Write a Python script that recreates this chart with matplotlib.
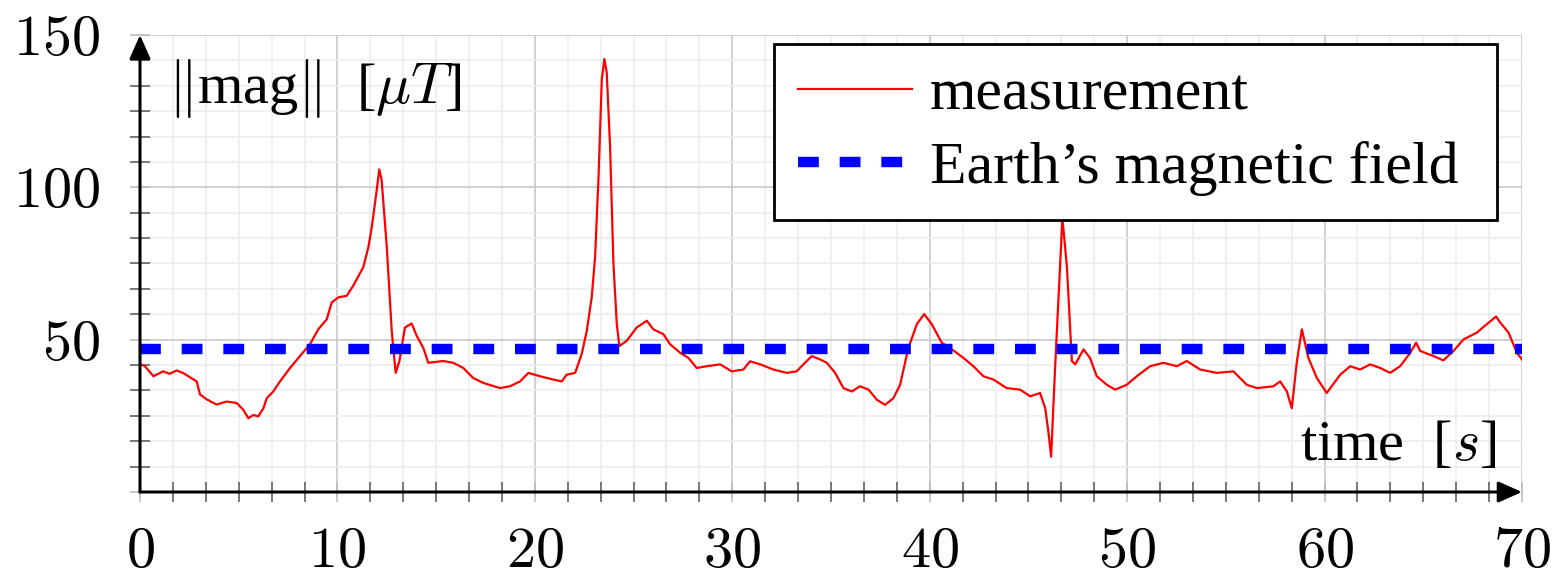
import numpy as np
import matplotlib
matplotlib.use("Agg")
import matplotlib.pyplot as plt
from matplotlib.ticker import MultipleLocator, AutoMinorLocator, FuncFormatter

plt.rcParams['font.family'] = ['Liberation Serif', 'DejaVu Serif']
plt.rcParams['mathtext.fontset'] = 'cm'

# magnetometer norm
time_s = [0.0, 0.25, 0.68, 1.17, 1.5, 1.86, 2.2, 2.87, 3.04, 3.38, 3.88, 4.39, 4.9,
          5.23, 5.49, 5.74, 5.99, 6.25, 6.42, 6.75, 7.09, 7.6, 8.1, 8.61, 9.03, 9.46,
          9.71, 10.05, 10.47, 10.8, 11.31, 11.57, 11.74, 11.99, 12.12, 12.24, 12.5,
          12.75, 12.95, 13.14, 13.42, 13.76, 14.02, 14.35, 14.6, 15.36, 15.87, 16.38,
          16.88, 17.39, 18.24, 18.74, 19.25, 19.67, 20.26, 20.94, 21.36, 21.61, 22.04,
          22.37, 22.63, 22.88, 23.05, 23.22, 23.39, 23.52, 23.64, 23.81, 23.98, 24.15,
          24.28, 24.65, 25.16, 25.67, 26.0, 26.51, 26.85, 27.36, 27.78, 28.2, 28.71,
          29.38, 29.97, 30.56, 30.9, 31.41, 32.08, 32.76, 33.26, 33.6, 34.03, 34.45,
          34.79, 35.21, 35.63, 36.05, 36.47, 36.9, 37.32, 37.74, 38.16, 38.5, 38.92,
          39.35, 39.72, 40.1, 40.61, 41.03, 41.71, 42.21, 42.72, 43.23, 43.9, 44.58,
          45.09, 45.59, 45.85, 46.01, 46.15, 46.35, 46.6, 46.72, 46.95, 47.2, 47.37,
          47.79, 48.12, 48.46, 48.97, 49.39, 49.98, 50.49, 51.17, 51.84, 52.52, 53.02,
          53.7, 54.54, 55.38, 56.06, 56.57, 57.41, 57.75, 58.09, 58.34, 58.6, 58.85,
          59.18, 59.61, 60.11, 60.79, 61.3, 61.8, 62.31, 62.82, 63.32, 63.83, 64.34,
          64.64, 64.84, 65.52, 66.02, 66.53, 67.04, 67.71, 68.22, 68.69, 68.9, 69.32,
          69.74, 70.0]
mag_uT = [42.0, 41.3, 38.0, 39.6, 38.8, 39.9, 39.0, 36.3, 32.0, 30.4, 28.7, 29.7, 29.2,
          27.0, 24.2, 25.3, 24.8, 27.5, 30.8, 33.0, 36.3, 40.7, 44.6, 48.5, 53.4, 56.7,
          62.2, 63.9, 64.4, 67.7, 73.8, 80.4, 87.0, 99.1, 105.9, 102.4, 80.4,
          52.9, 39.1, 43.0, 54.0, 55.3, 51.2, 47.3, 42.4, 43.0, 42.4, 40.7,
          37.4, 35.8, 34.1, 34.7, 36.3, 39.1, 38.0, 36.9, 36.3, 38.5, 39.1,
          45.2, 52.9, 63.9, 77.1, 102.4, 135.4, 142.1, 137.7, 113.4, 74.9, 55.1,
          47.9, 49.6, 54.0, 56.2, 53.4, 51.8, 48.5, 45.7, 44.0, 40.7, 41.3,
          41.9, 39.6, 40.2, 42.9, 41.9, 40.2, 39.1, 39.6, 41.9, 44.6, 43.5,
          42.4, 39.1, 34.1, 33.0, 34.7, 33.6, 30.3, 28.6, 30.8, 35.2, 47.3,
          55.1, 58.4, 55.1, 49.0, 47.3, 44.0, 41.3, 38.0, 36.9, 34.1, 33.6,
          31.4, 32.5, 27.5, 19.8, 11.6, 40.7, 73.8, 89.9, 73.8, 43.0, 41.9,
          46.8, 44.0, 38.0, 35.2, 33.6, 35.2, 38.0, 41.3, 42.4, 41.3, 43.0,
          40.2, 39.1, 39.6, 35.2, 34.1, 34.7, 36.3, 33.0, 27.5, 43.0, 53.4,
          44.0, 37.4, 32.5, 38.5, 41.3, 40.2, 41.9, 40.7, 39.1, 41.3, 45.7,
          49.0, 46.3, 44.6, 43.2, 46.3, 50.1, 52.3, 55.1, 57.6, 55.6, 52.3,
          45.7, 43.5]
earth_field = 47.0
x_range = [0, 70]
y_range = [0, 150]

fig = plt.figure(figsize=(15.58, 5.81), dpi=100)
ax = fig.add_axes([140 / 1558, 1 - 492 / 581, 1382 / 1558, 457 / 581])

ax.plot(time_s, mag_uT, color='red', lw=1.6, label='measurement', zorder=3)
ax.plot(x_range, [earth_field, earth_field], color='blue', lw=7.5,
        dashes=(2.0, 2.0), label="Earth’s magnetic field ", zorder=4,
        solid_capstyle='butt', dash_capstyle='butt')

ax.set_xlim(*x_range)
ax.set_ylim(*y_range)

ax.xaxis.set_major_locator(MultipleLocator(10))
ax.yaxis.set_major_locator(MultipleLocator(50))
ax.xaxis.set_minor_locator(AutoMinorLocator(6))
ax.yaxis.set_minor_locator(AutoMinorLocator(6))
ax.xaxis.set_major_formatter(FuncFormatter(lambda v, p: r'$%d$' % v))
ax.yaxis.set_major_formatter(FuncFormatter(lambda v, p: r'$%d$' % v if v > 0 else ''))

ax.grid(which='major', color='#c4c4c4', lw=1.1, zorder=0)
ax.grid(which='minor', color='#ececec', lw=1.1, zorder=0)
ax.set_axisbelow(True)

ax.tick_params(which='major', direction='inout', length=15, width=1.1,
               color='#b8b8b8', labelsize=42)
ax.tick_params(which='minor', direction='inout', length=14, width=1.1,
               color='#555555')
ax.tick_params(axis='x', which='major', pad=18)
ax.tick_params(axis='y', which='major', pad=21)

for s in ax.spines.values():
    s.set_visible(False)

arrow = dict(arrowstyle='-|>,head_length=0.9,head_width=0.4', color='black',
             lw=2.2, mutation_scale=16, shrinkA=0, shrinkB=0)
ax.annotate('', xy=(1, 0), xytext=(0, 0), xycoords='axes fraction',
            arrowprops=arrow, zorder=6, annotation_clip=False)
ax.annotate('', xy=(0, 1), xytext=(0, 0), xycoords='axes fraction',
            arrowprops=arrow, zorder=6, annotation_clip=False)

ax.text(0.02, 0.851, r'$\|$mag$\|$  [$\mu T$]', transform=ax.transAxes,
        fontsize=42, ha='left', va='baseline')
ax.text(0.982, 0.070, r'time  [$s$]', transform=ax.transAxes,
        fontsize=42, ha='right', va='baseline')

leg = ax.legend(loc='upper right', bbox_to_anchor=(0.982, 0.98), borderaxespad=0,
                fontsize=43, frameon=True, fancybox=False, edgecolor='black',
                framealpha=1, handlelength=1.9, handletextpad=0.3,
                borderpad=0.4, labelspacing=0.3)
leg.get_frame().set_linewidth(2.0)
leg.set_zorder(10)

fig.savefig('out.png', dpi=100)
